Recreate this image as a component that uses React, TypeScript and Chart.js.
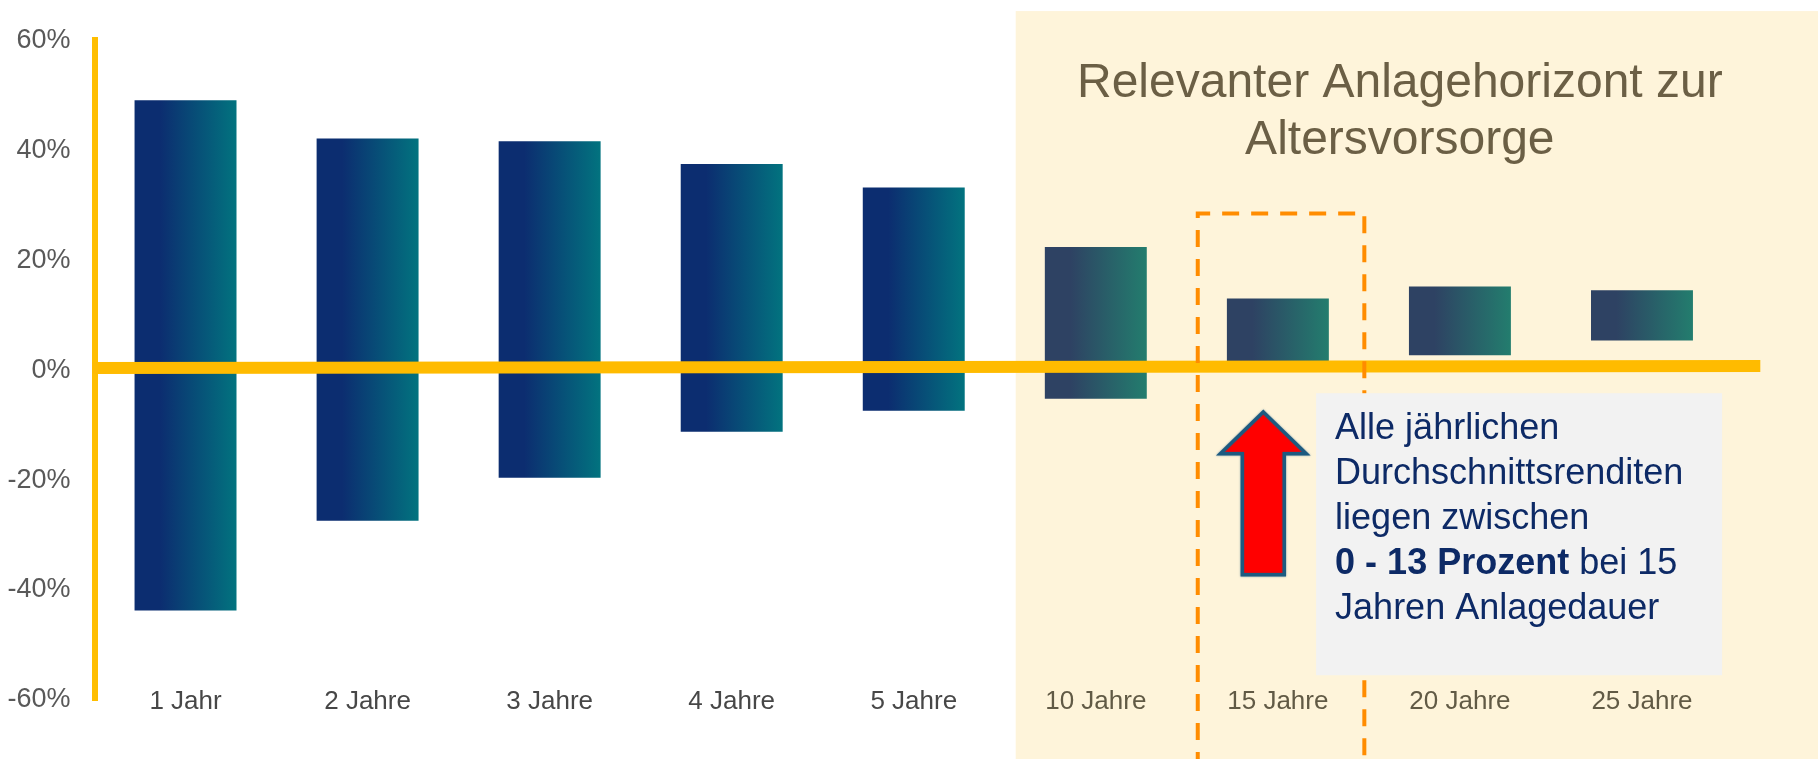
import React, { useEffect, useRef } from "react";
import { Chart, registerables } from "chart.js";

Chart.register(...registerables);

// Holding periods and the range of average annual returns (percent)
const categories = ["1 Jahr", "2 Jahre", "3 Jahre", "4 Jahre", "5 Jahre", "10 Jahre", "15 Jahre", "20 Jahre", "25 Jahre"];
const lowReturns = [-43.7, -27.4, -19.6, -11.2, -7.4, -5.2, 0, 2.7, 5.4];
const highReturns = [49.1, 42.1, 41.6, 37.5, 33.2, 22.4, 13, 15.2, 14.5];
const yTicks = [-60, -40, -20, 0, 20, 40, 60];

const titleLines = ["Relevanter Anlagehorizont zur", "Altersvorsorge"];
const noteLines: { bold: string; normal: string }[] = [
  { bold: "", normal: "Alle jährlichen" },
  { bold: "", normal: "Durchschnittsrenditen" },
  { bold: "", normal: "liegen zwischen" },
  { bold: "0 - 13 Prozent", normal: " bei 15" },
  { bold: "", normal: "Jahren Anlagedauer" },
];

const FONT = "'Liberation Sans', Arial, sans-serif";
const FIRST_LONG_TERM = 5; // index where the retirement horizon starts

const overlayPlugin = {
  id: "overlay",
  beforeDraw(chart: any) {
    const { ctx, scales, width, height } = chart;
    const x = scales.x;
    const y = scales.y;
    // shaded horizon region
    const left = x.getPixelForValue(4.56);
    const top = y.getPixelForValue(65.3);
    ctx.save();
    ctx.fillStyle = "#fef4da";
    ctx.fillRect(left, top, width - left, height - top);
    // region heading
    ctx.fillStyle = "#6b5f45";
    ctx.font = `48px ${FONT}`;
    ctx.textAlign = "center";
    ctx.textBaseline = "alphabetic";
    const cx = x.getPixelForValue(6.67);
    ctx.fillText(titleLines[0], cx, y.getPixelForValue(49.6));
    ctx.fillText(titleLines[1], cx, y.getPixelForValue(39.3));
    ctx.restore();
  },
  afterDatasetsDraw(chart: any) {
    const { ctx, scales, height } = chart;
    const x = scales.x;
    const y = scales.y;
    ctx.save();
    // zero line
    const y0 = y.getPixelForValue(0) - 2;
    ctx.strokeStyle = "#ffbb00";
    ctx.lineWidth = 12;
    ctx.beginPath();
    ctx.moveTo(chart.chartArea.left - 2, y0);
    ctx.lineTo(x.getPixelForValue(8.65), y0 - 2);
    ctx.stroke();

    // dashed frame around the 15-year bar
    const dl = x.getPixelForValue(5.56);
    const dr = x.getPixelForValue(6.475);
    const dt = y.getPixelForValue(28.5);
    ctx.strokeStyle = "#ff8c00";
    ctx.lineWidth = 4;
    ctx.setLineDash([17, 12]);
    ctx.beginPath();
    ctx.moveTo(dl, height + 10);
    ctx.lineTo(dl, dt);
    ctx.lineTo(dr, dt);
    ctx.lineTo(dr, height + 10);
    ctx.stroke();
    ctx.setLineDash([]);

    // note box
    const bl = x.getPixelForValue(6.21);
    const br = x.getPixelForValue(8.44);
    const bt = y.getPixelForValue(-4.2);
    const bb = y.getPixelForValue(-55.5);
    ctx.fillStyle = "#f2f2f2";
    ctx.fillRect(bl, bt, br - bl, bb - bt);

    // red arrow
    const ax = x.getPixelForValue(5.92);
    const tip = y.getPixelForValue(-7.6);
    const base = y.getPixelForValue(-15.2);
    const bottom = y.getPixelForValue(-37.2);
    const hw = 43;
    const sw = 21;
    ctx.beginPath();
    ctx.moveTo(ax, tip);
    ctx.lineTo(ax + hw, base);
    ctx.lineTo(ax + sw, base);
    ctx.lineTo(ax + sw, bottom);
    ctx.lineTo(ax - sw, bottom);
    ctx.lineTo(ax - sw, base);
    ctx.lineTo(ax - hw, base);
    ctx.closePath();
    ctx.fillStyle = "#ff0000";
    ctx.fill();
    ctx.strokeStyle = "#1d5a80";
    ctx.lineWidth = 3.5;
    ctx.lineJoin = "miter";
    ctx.shadowColor = "rgba(29,90,128,0.6)";
    ctx.shadowBlur = 2;
    ctx.stroke();
    ctx.shadowBlur = 0;

    // note text
    const tx = bl + 19;
    let ty = y.getPixelForValue(-12.5);
    ctx.fillStyle = "#0d2a66";
    ctx.textAlign = "left";
    ctx.textBaseline = "alphabetic";
    for (const line of noteLines) {
      let cur = tx;
      if (line.bold) {
        ctx.font = `bold 36px ${FONT}`;
        ctx.fillText(line.bold, cur, ty);
        cur += ctx.measureText(line.bold).width;
      }
      ctx.font = `36px ${FONT}`;
      ctx.fillText(line.normal, cur, ty);
      ty += 45;
    }
    ctx.restore();
  },
};

function barFill(ctx: any) {
  const chart = ctx.chart;
  const longTerm = ctx.dataIndex >= FIRST_LONG_TERM;
  const dark = longTerm ? "#2e4263" : "#0c2d70";
  const light = longTerm ? "#237d6e" : "#02737f";
  if (!chart.chartArea || ctx.dataIndex === undefined) return dark;
  const xs = chart.scales.x;
  const cx = xs.getPixelForValue(ctx.dataIndex);
  const w = (xs.width / categories.length) * 0.56;
  const g = chart.ctx.createLinearGradient(cx - w / 2, 0, cx + w / 2, 0);
  g.addColorStop(0, dark);
  g.addColorStop(0.25, dark);
  g.addColorStop(1, light);
  return g;
}

export default function App() {
  const canvasRef = useRef<HTMLCanvasElement | null>(null);

  useEffect(() => {
    if (!canvasRef.current) return;
    const chart = new Chart(canvasRef.current, {
      type: "bar",
      data: {
        labels: categories,
        datasets: [
          {
            data: categories.map((_, i) => [lowReturns[i], highReturns[i]]) as any,
            backgroundColor: barFill as any,
            borderWidth: 0,
            barPercentage: 1,
            categoryPercentage: 0.56,
          },
        ],
      },
      options: {
        animation: false,
        responsive: false,
        devicePixelRatio: 1,
        layout: { padding: { left: 0, right: 85, top: 38, bottom: 0 } },
        plugins: { legend: { display: false }, tooltip: { enabled: false }, title: { display: false } },
        scales: {
          x: {
            grid: { display: false, drawTicks: false },
            border: { display: false },
            ticks: {
              mirror: true,
              padding: -17,
              font: { family: FONT, size: 26 },
              color: categories.map((_, i) => (i >= FIRST_LONG_TERM ? "#615a45" : "#474747")),
              maxRotation: 0,
              autoSkip: false,
            },
            afterFit: (s: any) => {
              s.height = 59;
            },
          },
          y: {
            min: -60,
            max: 60,
            grid: { display: false, drawTicks: false },
            border: { display: true, color: "#ffbe00", width: 6 },
            afterBuildTicks: (s: any) => {
              s.ticks = yTicks.map((v) => ({ value: v }));
            },
            ticks: {
              padding: 24,
              font: { family: FONT, size: 27 },
              color: "#595959",
              callback: (v: any) => `${v}%`,
            },
            afterFit: (s: any) => {
              s.width = 94.5;
            },
          },
        },
      },
      plugins: [overlayPlugin],
    });
    return () => chart.destroy();
  }, []);

  return (
    <div style={{ position: "fixed", left: 0, top: 0, width: 1818, height: 759, background: "#ffffff" }}>
      <canvas ref={canvasRef} width={1818} height={759} style={{ display: "block" }} />
    </div>
  );
}
